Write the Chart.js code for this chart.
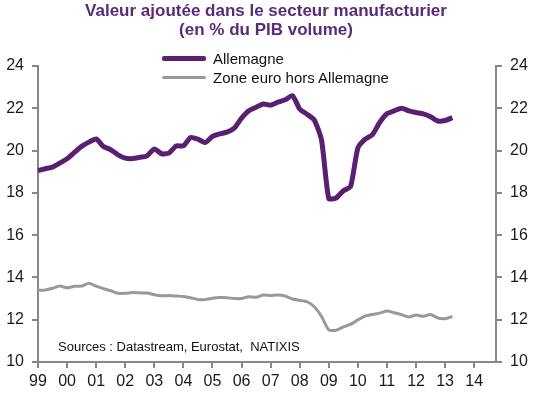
<!DOCTYPE html>
<html lang="fr">
<head>
    <meta charset="UTF-8">
    <title>Valeur ajoutée dans le secteur manufacturier</title>
    <script src="https://cdn.jsdelivr.net/npm/chart.js"></script>
    <style>
        body { margin: 0; background: #fff; font-family: "Liberation Sans", Arial, sans-serif; }
        #wrap { position: relative; width: 535px; height: 396px; }
        #title {
            position: absolute; top: 1px; left: 0; width: 532px;
            text-align: center; font-weight: bold; font-size: 17px; line-height: 19px;
            color: #5b2a78;
        }
        #legend { position: absolute; left: 162px; top: 49px; font-size: 15px; color: #111; }
        .item { display: flex; align-items: center; height: 19px; }
        .swatch { width: 44px; margin-right: 7px; border-radius: 2px; }
        #sources { position: absolute; left: 58px; top: 339px; font-size: 13px; color: #111; }
    </style>
</head>
<body>
<div id="wrap">
    <canvas id="myChart" width="535" height="396"></canvas>
    <div id="title">Valeur ajoutée dans le secteur manufacturier<br>(en % du PIB volume)</div>
    <div id="legend"></div>
    <div id="sources">Sources : Datastream, Eurostat,&nbsp; NATIXIS</div>
</div>
<script>
    // années affichées sur l'axe (données trimestrielles, 1999T1 -> 2014T4)
    const years = ['99', '00', '01', '02', '03', '04', '05', '06', '07', '08', '09', '10', '11', '12', '13', '14'];
    const quarters = [];
    years.forEach(y => { for (let q = 1; q <= 4; q++) quarters.push(y + 'T' + q); });

    const allemagne = [
        19.05, 19.14, 19.22, 19.41, 19.61, 19.91, 20.2, 20.4,
        20.55, 20.19, 20.04, 19.8, 19.64, 19.62, 19.68, 19.75,
        20.08, 19.85, 19.88, 20.22, 20.22, 20.62, 20.54, 20.38,
        20.67, 20.79, 20.87, 21.06, 21.53, 21.88, 22.05, 22.2,
        22.15, 22.29, 22.4, 22.6, 21.97, 21.72, 21.45, 20.5,
        17.73, 17.76, 18.1, 18.3, 20.12, 20.54, 20.75, 21.33,
        21.74, 21.88, 22.0, 21.88, 21.8, 21.74, 21.6, 21.4,
        21.42, 21.56
    ];
    const zoneEuro = [
        13.4, 13.4, 13.49, 13.59, 13.51, 13.58, 13.59, 13.72,
        13.59, 13.47, 13.37, 13.25, 13.25, 13.29, 13.27, 13.26,
        13.18, 13.13, 13.14, 13.12, 13.1, 13.04, 12.96, 12.95,
        13.02, 13.05, 13.04, 13.0, 13.0, 13.09, 13.06, 13.17,
        13.15, 13.17, 13.12, 12.98, 12.92, 12.85, 12.61, 12.15,
        11.52, 11.5, 11.66, 11.78, 11.99, 12.17, 12.25, 12.31,
        12.41, 12.33, 12.24, 12.13, 12.22, 12.16, 12.25, 12.08,
        12.05, 12.15
    ];

    const purple = '#581f72';
    const grey = '#999999';
    const axisGrey = '#878787';

    const datasets = [
        { label: 'Allemagne', data: allemagne, borderColor: purple, borderWidth: 5, pointRadius: 0, tension: 0.2, yAxisID: 'y' },
        { label: 'Zone euro hors Allemagne', data: zoneEuro, borderColor: grey, borderWidth: 3, pointRadius: 0, tension: 0.2, yAxisID: 'y' }
    ];

    // légende en HTML
    const legend = document.getElementById('legend');
    datasets.forEach(ds => {
        const div = document.createElement('div');
        div.className = 'item';
        div.innerHTML = '<span class="swatch" style="height:' + ds.borderWidth + 'px;background:' + ds.borderColor + '"></span>' + ds.label;
        legend.appendChild(div);
    });

    const yAxis = (pos, width) => ({
        position: pos,
        min: 10, max: 24,
        border: { display: true, color: axisGrey, width: 2 },
        grid: { drawOnChartArea: false, drawTicks: true, tickLength: 6, color: axisGrey, lineWidth: 2 },
        ticks: { stepSize: 2, padding: 8, color: '#1a1a1a', font: { family: 'Liberation Sans', size: 16 } },
        afterFit: s => { s.width = width; }
    });

    new Chart(document.getElementById('myChart'), {
        type: 'line',
        data: { labels: quarters, datasets: datasets },
        options: {
            responsive: false,
            animation: false,
            layout: { padding: { top: 66, left: 0, right: 0, bottom: 0 } },
            plugins: { legend: { display: false }, title: { display: false }, tooltip: { enabled: false } },
            scales: {
                x: {
                    offset: false,
                    border: { display: true, color: axisGrey, width: 2 },
                    grid: {
                        drawOnChartArea: false, drawTicks: true, tickLength: 6, lineWidth: 2,
                        color: c => c.index % 4 === 0 ? axisGrey : 'rgba(0,0,0,0)'
                    },
                    ticks: {
                        autoSkip: false, maxRotation: 0, padding: 4, color: '#1a1a1a',
                        font: { family: 'Liberation Sans', size: 16 },
                        callback: (v, i) => i % 4 === 0 ? years[i / 4] : ''
                    },
                    afterFit: s => { s.height = 34; }
                },
                y: yAxis('left', 38),
                y2: yAxis('right', 39)
            }
        }
    });
</script>
</body>
</html>
